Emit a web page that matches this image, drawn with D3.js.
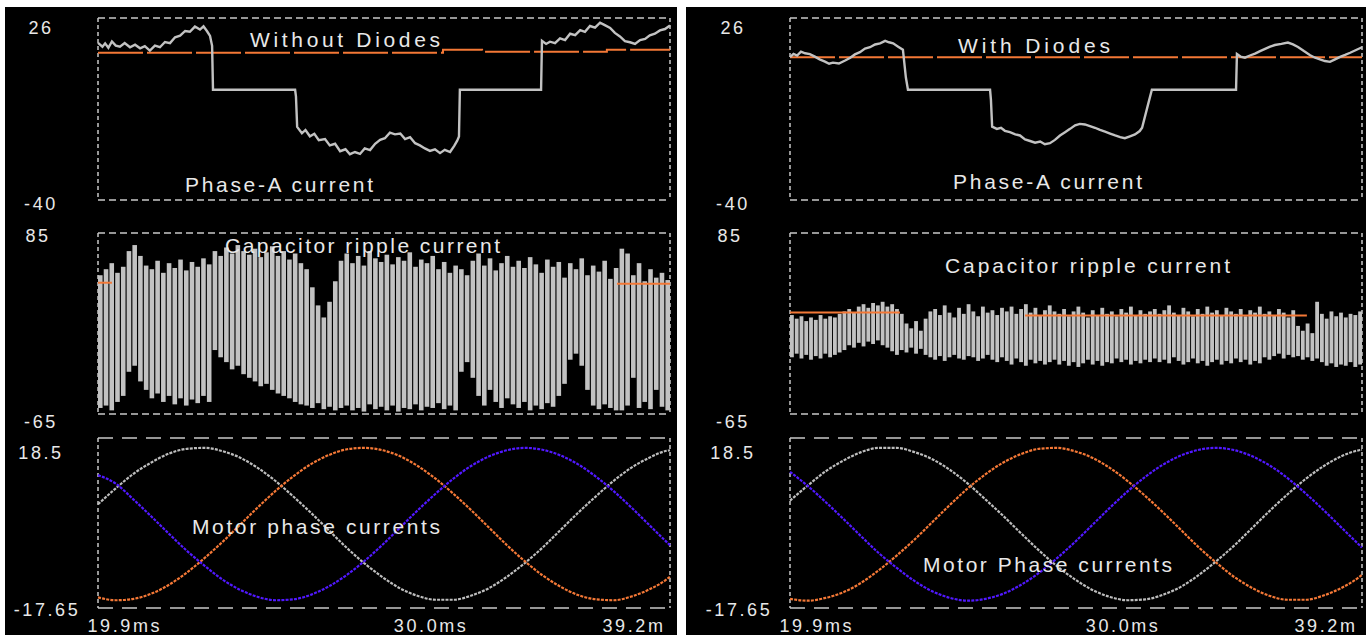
<!DOCTYPE html>
<html>
<head>
<meta charset="utf-8">
<script src="https://cdn.jsdelivr.net/npm/d3@7"></script>
<style>
  body { margin: 0; background: #fff; }
  svg { display: block; }
</style>
</head>
<body>
<svg id="chart"></svg>
<script>
// ---------- data ----------
const facetTitles = ["Without Diodes", "With Diodes"];
const rowTitles = [
  ["Phase-A current", "Capacitor ripple current", "Motor phase currents"],
  ["Phase-A current", "Capacitor ripple current", "Motor Phase currents"],
];
const yDomains = [[-40, 26], [-65, 85], [-17.65, 18.5]];
const yTickLabels = [["26", "-40"], ["85", "-65"], ["18.5", "-17.65"]];
const xDomain = [19.9, 39.2];
const xTicks = [19.9, 30.0, 39.2];
const xTickLabels = ["19.9ms", "30.0ms", "39.2m"];

// phase-A current [ms, A]
const phaseALeft = [[19.90,17.0],[20.05,15.6],[20.14,16.8],[20.25,15.2],[20.37,17.5],[20.50,16.0],[20.64,15.6],[20.80,16.9],[20.98,15.4],[21.15,16.3],[21.32,15.0],[21.48,15.8],[21.65,14.2],[21.82,16.0],[21.99,15.4],[22.16,17.3],[22.33,16.9],[22.50,19.0],[22.67,19.6],[22.84,21.3],[23.00,21.0],[23.17,22.9],[23.34,21.8],[23.46,23.0],[23.58,21.2],[23.68,19.5],[23.75,15.9],[23.78,0],[26.55,0],[26.58,-2.5],[26.62,-13.5],[26.78,-15.8],[26.90,-14.6],[27.05,-16.9],[27.20,-16.0],[27.35,-18.3],[27.56,-17.9],[27.72,-20.2],[27.90,-19.6],[28.07,-22.3],[28.25,-21.6],[28.40,-23.4],[28.57,-22.6],[28.74,-23.3],[28.90,-21.3],[29.08,-21.9],[29.25,-19.6],[29.42,-18.2],[29.58,-17.6],[29.75,-15.6],[29.92,-16.2],[30.10,-15.9],[30.26,-17.9],[30.43,-17.2],[30.60,-19.4],[30.76,-20.2],[30.93,-21.3],[31.10,-22.2],[31.27,-21.6],[31.44,-23.0],[31.60,-21.8],[31.78,-22.6],[31.92,-20.4],[32.02,-18.5],[32.08,-17.0],[32.11,0],[34.85,0],[34.88,17.7],[35.02,16.6],[35.15,17.4],[35.32,16.9],[35.49,18.6],[35.66,18.0],[35.83,20.3],[36.00,19.8],[36.17,21.6],[36.33,21.0],[36.50,23.1],[36.67,22.5],[36.84,24.3],[37.00,23.4],[37.18,22.4],[37.34,20.6],[37.51,19.3],[37.68,17.6],[37.85,17.2],[38.02,16.6],[38.19,18.0],[38.36,18.4],[38.52,19.7],[38.69,20.3],[38.86,21.5],[39.03,22.0],[39.20,23.3]];
const phaseARight = [[19.90,11.8],[20.02,13.0],[20.14,12.4],[20.27,13.8],[20.41,13.2],[20.57,12.9],[20.74,12.0],[20.90,11.0],[21.08,10.2],[21.22,9.4],[21.35,9.8],[21.55,9.5],[21.76,10.6],[21.92,11.5],[22.09,12.8],[22.26,13.6],[22.43,14.9],[22.60,15.4],[22.77,16.4],[22.94,16.8],[23.11,17.7],[23.24,17.2],[23.38,16.8],[23.55,15.6],[23.71,14.5],[23.81,4.4],[23.88,0],[26.65,0],[26.68,-3.7],[26.72,-13.4],[26.88,-14.2],[27.02,-13.8],[27.15,-14.9],[27.32,-15.4],[27.50,-16.2],[27.66,-16.6],[27.83,-18.0],[28.00,-18.6],[28.17,-19.2],[28.34,-18.8],[28.50,-19.8],[28.67,-19.4],[28.84,-18.2],[29.01,-16.6],[29.18,-15.4],[29.35,-14.2],[29.52,-12.9],[29.68,-12.4],[29.85,-12.6],[30.02,-13.2],[30.19,-13.8],[30.36,-14.6],[30.53,-15.2],[30.70,-15.9],[30.87,-16.6],[31.04,-17.2],[31.20,-17.6],[31.37,-16.9],[31.54,-16.2],[31.70,-15.0],[31.78,-13.8],[31.98,-5.4],[32.11,0],[34.95,0],[34.98,12.9],[35.10,12.0],[35.25,11.6],[35.42,12.4],[35.59,13.1],[35.76,14.0],[35.93,14.8],[36.10,15.6],[36.26,16.2],[36.48,16.6],[36.70,17.1],[36.87,16.4],[37.04,15.5],[37.24,14.0],[37.45,12.5],[37.62,11.6],[37.78,11.0],[37.95,10.4],[38.12,10.1],[38.29,11.0],[38.46,11.9],[38.63,12.6],[38.80,13.4],[39.00,14.4],[39.20,15.4]];
// reference (orange) traces, step points [ms, A]
const refTopLeft = [[19.9,13.4],[31.54,14.5],[32.86,13.8],[37.07,14.5],[39.2,14.5]];
const refTopRight = [[19.9,11.8],[39.2,11.8]];
const refRippleLeft = [[[19.9,43.8],[20.37,43.8]], [[37.41,43.0],[39.2,43.0]]];
const refRippleRight = [[[19.9,19.2],[23.61,19.2]], [[27.83,16.7],[37.34,16.7]]];

// capacitor ripple: one high/low pair per switching pulse
const rippleHiLeft = [50,55,60,52,57, 70,75,66, 58,55,62,52,60,56,63,54,61,57,64,59, 70,66,73,68,75,70,67,72,65,69,74,66,70,63,68,60, 55,40,25,15,28,45,62, 68,60,66,58,70,64,61,67,59,65,62,69,57,63,60,66,55,61,52,58, 55,50,62,68,58,64,54,60,66,57, 62,56,65,59,52,63,57,61,48,60,55,64,50,58,53,62,47,56, 72,68,50,60,45,55,48,52,46];
const rippleLoLeft = [-60,-58,-62,-55,-50, -30,-25,-38, -45,-52,-48,-55,-50,-57,-52,-58,-53,-56,-50,-55, -12,-18,-22,-28,-25,-32,-35,-38,-42,-40,-45,-48,-50,-52,-55,-57, -58,-60,-56,-61,-59,-62,-60, -58,-62,-60,-63,-57,-61,-59,-62,-58,-63,-60,-61,-57,-62,-59,-60,-56,-61,-58,-62, -30,-22,-35,-50,-58,-45,-55,-60,-52,-57, -60,-55,-62,-58,-61,-56,-59,-50,-40,-20,-15,-25,-45,-58,-61,-57,-60,-62, -62,-58,-35,-60,-55,-61,-45,-59,-62];
const rippleHiRight = [17,14,16,12,15,13,17,14,16,15,18, 20,22,19,24,26,23,27,25,28,24,26,22,18, 10,6,12,4,14,20, 22,17,25,19,15,23,18,26,20,16,24,19,21,17,23, 20,24,18,22,26,19,23,17,21,25,20, 18,22,16,20,24,19,15,21,17,23,18,20,16,22,19,24,17,21,18,20, 22,18,21,25,19,17,23,20,16,22,18,24,19,21,17,23,20,18,22,16,21,19,24,18,20,17,22,19,15,21, 8,4,10,2,28, 18,14,20,16,19,15,18,17,20];
const rippleLoRight = [-18,-15,-19,-16,-20,-17,-19,-15,-18,-16,-14, -12,-8,-10,-6,-9,-5,-7,-4,-8,-10,-13,-16,-12, -14,-10,-15,-11,-16,-18, -20,-17,-21,-18,-16,-19,-20,-17,-18,-21,-19,-16,-20,-22,-18, -21,-24,-19,-22,-25,-20,-23,-21,-24,-22,-20, -24,-21,-25,-22,-26,-23,-20,-24,-21,-25,-22,-23,-19,-22,-20,-24,-21,-23,-20,-22, -19,-22,-20,-23,-18,-21,-24,-22,-19,-23,-21,-25,-22,-20,-24,-21,-23,-19,-22,-20,-24,-21,-23,-18,-20,-17,-15,-19,-16,-18, -17,-20,-18,-21,-19, -22,-25,-23,-26,-24,-25,-22,-26,-24];

// motor phase currents, sampled times [ms] and values [A]
const phaseTimes = [19.9,20.5,21.1,21.7,22.3,22.9,23.5,24.1,24.7,25.3,25.9,26.5,27.1,27.7,28.3,28.9,29.5,30.1,30.7,31.3,31.9,32.5,33.1,33.7,34.3,34.9,35.5,36.1,36.7,37.3,37.9,38.5,39.1,39.2];
const grayLeft   = [4.4,7.8,10.9,13.3,15.2,16.2,16.4,15.7,14.3,12.1,9.3,6.0,2.5,-1.2,-4.9,-8.2,-11.1,-13.5,-15.1,-15.9,-15.9,-15.0,-13.4,-11.0,-8.1,-4.8,-1.1,2.6,6.1,9.4,12.2,14.3,15.8,15.9];
const orangeLeft = [-15.4,-16.0,-15.7,-14.6,-12.7,-10.1,-7.0,-3.6,0.1,3.8,7.3,10.4,13.0,14.9,16.1,16.4,15.9,14.6,12.5,9.8,6.6,3.1,-0.6,-4.3,-7.7,-10.7,-13.1,-14.9,-15.8,-16.0,-15.2,-13.7,-11.5,-11.0];
const blueLeft   = [10.6,8.8,5.4,1.8,-1.9,-5.5,-8.7,-11.6,-13.8,-15.3,-16.0,-15.8,-14.8,-13.0,-10.6,-7.6,-4.2,-0.5,3.2,6.7,9.9,12.6,14.6,15.9,16.4,16.0,14.8,12.9,10.3,7.2,3.7,0.0,-3.7,-4.3];
const grayRight   = [5.2,8.4,11.4,13.7,15.5,16.4,16.4,15.5,14.0,11.7,8.8,5.4,1.9,-1.8,-5.4,-8.7,-11.5,-13.8,-15.3,-16.0,-15.8,-14.8,-13.1,-10.6,-7.6,-4.3,-0.6,3.1,6.6,9.8,12.5,14.6,15.9,16.0];
const orangeRight = [-15.7,-16.1,-15.5,-14.3,-12.3,-9.6,-6.5,-3.1,0.6,4.3,7.8,10.8,13.3,15.1,16.2,16.4,15.7,14.3,12.1,9.3,6.1,2.6,-1.1,-4.8,-8.1,-11.1,-13.4,-15.1,-15.9,-15.9,-15.0,-13.4,-11.1,-10.6];
const blueRight   = [11.3,8.3,4.9,1.3,-2.4,-6.0,-9.1,-11.9,-14.1,-15.5,-16.1,-15.7,-14.6,-12.7,-10.2,-7.1,-3.7,0.0,3.7,7.2,10.3,12.9,14.8,16.0,16.4,15.9,14.6,12.6,9.9,6.7,3.2,-0.5,-4.2,-4.8];

// ---------- layout ----------
const width = 1371, height = 635;
const facets = [
  { x0: 98, x1: 670, bgX: 5, bgW: 672 },
  { x0: 790, x1: 1362, bgX: 686, bgW: 680 },
];
const rows = [
  { top: 18, bottom: 200, dash: "7,4", labelDy: [16, 10], labelDx: [0, 0] },
  { top: 233, bottom: 414, dash: "7,4", labelDy: [9, 14], labelDx: [-3, 0] },
  { top: 438, bottom: 608, dash: "15,9", labelDy: [21, 8], labelDx: [0, 6] },
];
const titlePos = [
  [{ x: 250, y: 47, w: 190 }, { x: 185, y: 192, w: 188 }, { x: 225, y: 253, w: 275 }, { x: 192, y: 534, w: 248 }],
  [{ x: 958, y: 53, w: 152 }, { x: 953, y: 189, w: 189 }, { x: 945, y: 273, w: 285 }, { x: 923, y: 572, w: 249 }],
];
const colors = { trace: "#c2c2c2", ref: "#f47836", gray: "#bdbdbd", orange: "#f47836", blue: "#5118ff", box: "#c8c8c8", text: "#e8e8e8" };
const fontFamily = "'Liberation Sans', Arial, sans-serif";

const svg = d3.select("#chart").attr("width", width).attr("height", height)
  .attr("viewBox", [0, 0, width, height]);
svg.append("rect").attr("width", width).attr("height", height).attr("fill", "#fff");

const facetData = [
  { phaseA: phaseALeft, refTop: refTopLeft, refRipple: refRippleLeft, hi: rippleHiLeft, lo: rippleLoLeft, phases: [grayLeft, orangeLeft, blueLeft] },
  { phaseA: phaseARight, refTop: refTopRight, refRipple: refRippleRight, hi: rippleHiRight, lo: rippleLoRight, phases: [grayRight, orangeRight, blueRight] },
];

facets.forEach((f, fi) => {
  const data = facetData[fi];
  const g = svg.append("g");
  g.append("rect").attr("x", f.bgX).attr("y", 7).attr("width", f.bgW).attr("height", height - 7).attr("fill", "#000");

  const x = d3.scaleLinear().domain(xDomain).range([f.x0, f.x1]);
  const ys = rows.map((r, ri) => d3.scaleLinear().domain(yDomains[ri]).range([r.bottom, r.top]));

  // dashed frames
  rows.forEach((r) => {
    const box = g.append("g").attr("fill", "none").attr("stroke", colors.box).attr("stroke-width", 1.5);
    [[f.x0, r.top, f.x1, r.top], [f.x0, r.bottom, f.x1, r.bottom]].forEach((l) =>
      box.append("line").attr("x1", l[0]).attr("y1", l[1]).attr("x2", l[2]).attr("y2", l[3]).attr("stroke-dasharray", r.dash));
    [[f.x0, r.top, f.x0, r.bottom], [f.x1, r.top, f.x1, r.bottom]].forEach((l) =>
      box.append("line").attr("x1", l[0]).attr("y1", l[1]).attr("x2", l[2]).attr("y2", l[3]).attr("stroke-dasharray", "4,3"));
  });

  // y end labels
  rows.forEach((r, ri) => {
    yTickLabels[ri].forEach((lab, k) => {
      g.append("text")
        .attr("x", f.x0 - 57 + r.labelDx[k])
        .attr("y", (k === 0 ? r.top : r.bottom) + r.labelDy[k])
        .attr("text-anchor", "middle")
        .attr("fill", colors.text)
        .attr("font-family", fontFamily)
        .attr("font-size", 18)
        .attr("letter-spacing", 2.6)
        .text(lab);
    });
  });

  // row 1: phase-A current
  const line1 = d3.line().x((d) => x(d[0])).y((d) => ys[0](d[1]));
  g.append("path").datum(data.refTop)
    .attr("d", line1.curve(d3.curveStepAfter))
    .attr("fill", "none").attr("stroke", colors.ref).attr("stroke-width", 2).attr("stroke-dasharray", "45,4");
  g.append("path")
    .attr("d", d3.line().x((d) => x(d[0])).y((d) => ys[0](d[1]))(data.phaseA))
    .attr("fill", "none").attr("stroke", colors.trace).attr("stroke-width", 2.4).attr("stroke-linejoin", "miter");

  // row 2: capacitor ripple current as pulse bars
  const pulses = data.hi.map((h, i) => ({ i, hi: h, lo: data.lo[i] }));
  const band = d3.scaleBand().domain(pulses.map((d) => d.i)).range([f.x0, f.x1]).paddingInner(0.2).paddingOuter(0);
  g.append("g").selectAll("rect").data(pulses).join("rect")
    .attr("x", (d) => band(d.i))
    .attr("width", band.bandwidth())
    .attr("y", (d) => ys[1](d.hi))
    .attr("height", (d) => ys[1](d.lo) - ys[1](d.hi))
    .attr("fill", colors.trace);
  const line2 = d3.line().x((d) => x(d[0])).y((d) => ys[1](d[1]));
  data.refRipple.forEach((seg) =>
    g.append("path").attr("d", line2(seg)).attr("fill", "none").attr("stroke", colors.ref).attr("stroke-width", 2));

  // row 3: motor phase currents
  const line3 = d3.line().x((d, i) => x(phaseTimes[i])).y((d) => ys[2](d)).curve(d3.curveMonotoneX);
  [colors.gray, colors.orange, colors.blue].forEach((c, k) => {
    g.append("path").attr("d", line3(data.phases[k]))
      .attr("fill", "none").attr("stroke", c).attr("stroke-width", 2.2).attr("stroke-dasharray", "3,1.2");
  });

  // x axis labels
  const xAxis = d3.axisBottom(x).tickValues(xTicks).tickSize(0).tickFormat((d, i) => xTickLabels[i]);
  const ax = g.append("g").attr("transform", `translate(0,${rows[2].bottom + 6})`).call(xAxis);
  ax.select(".domain").remove();
  const anchors = ["start", "start", "end"], dxs = [-11, -4, -5];
  ax.selectAll("text")
    .attr("fill", colors.text).attr("font-family", fontFamily).attr("font-size", 18)
    .attr("letter-spacing", 2.6)
    .attr("text-anchor", (d, i) => anchors[i]).attr("dx", (d, i) => dxs[i]).attr("dy", "0.85em");

  // titles
  const texts = [facetTitles[fi], ...rowTitles[fi]];
  texts.forEach((t, k) => {
    const p = titlePos[fi][k];
    g.append("text")
      .attr("x", p.x).attr("y", p.y)
      .attr("textLength", p.w).attr("lengthAdjust", "spacing")
      .attr("fill", colors.text).attr("font-family", fontFamily).attr("font-size", 21)
      .text(t);
  });
});
</script>
</body>
</html>
